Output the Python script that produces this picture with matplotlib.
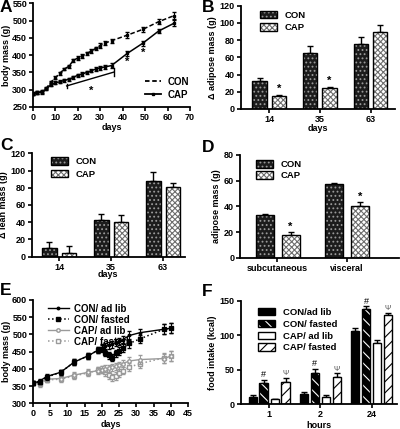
import matplotlib

matplotlib.use("Agg")
import matplotlib.pyplot as plt
import numpy as np
from matplotlib.legend_handler import HandlerTuple
from matplotlib.lines import Line2D

plt.rcParams["font.family"] = ["Liberation Sans", "DejaVu Sans"]
plt.rcParams["font.weight"] = "bold"
plt.rcParams["axes.labelweight"] = "bold"
plt.rcParams["font.size"] = 6.5
plt.rcParams["axes.labelsize"] = 6.5
plt.rcParams["axes.linewidth"] = 1.3
plt.rcParams["xtick.major.width"] = 1.2
plt.rcParams["ytick.major.width"] = 1.2
plt.rcParams["xtick.major.size"] = 3
plt.rcParams["ytick.major.size"] = 3
plt.rcParams["xtick.major.pad"] = 1.2
plt.rcParams["ytick.major.pad"] = 1.2
plt.rcParams["hatch.linewidth"] = 0.8

# Panel A: body mass over time
a_days = [0, 2, 4, 6, 8, 10, 12, 14, 16, 18, 20, 22, 24, 26, 28, 30, 32, 35, 42, 49, 56, 63]
a_con = [288, 292, 295, 305, 322, 335, 348, 360, 368, 385, 392, 398, 405, 412, 420, 428, 435, 442, 458, 475, 497, 515]
a_con_err = [4, 4, 4, 4, 4, 4, 4, 4, 4, 5, 5, 5, 5, 5, 5, 6, 6, 6, 8, 7, 8, 10]
a_cap = [288, 291, 293, 302, 315, 320, 323, 327, 330, 336, 342, 346, 350, 355, 360, 363, 366, 370, 405, 435, 470, 493]
a_cap_err = [4, 4, 4, 4, 4, 4, 4, 4, 4, 4, 5, 5, 5, 5, 5, 5, 6, 6, 6, 7, 7, 8]

# Panel B: change in adipose mass
b_days = ["14", "35", "63"]
b_con = [33, 65, 75]
b_con_err = [3, 8, 9]
b_cap = [15, 24, 89]
b_cap_err = [1, 2, 9]

# Panel C: change in lean mass
c_days = ["14", "35", "63"]
c_con = [10, 43, 88]
c_con_err = [7, 7, 10]
c_cap = [4, 40, 81]
c_cap_err = [8, 8, 5]

# Panel D: adipose depots
d_depots = ["subcutaneous", "visceral"]
d_con = [33, 57.5]
d_con_err = [1, 1]
d_cap = [18, 40]
d_cap_err = [2, 3]

# Panel E: fasting experiment body mass
e_days = [0, 2, 4, 8, 12, 16, 19, 20, 21, 22, 23, 24, 25, 26, 28, 31, 38, 40]
e_con_adlib = [358, 365, 378, 390, 420, 438, 455, 462, 465, 468, 472, 476, 480, 485, 497, 505, 515, 518]
e_con_fasted = [358, 362, 376, 390, 420, 438, 455, 458, 447, 440, 432, 445, 452, 460, 474, 487, 515, 518]
e_cap_adlib = [358, 360, 370, 372, 382, 390, 395, 397, 400, 402, 405, 407, 410, 415, 423, 427, 430, 437]
e_cap_fasted = [358, 355, 368, 370, 380, 388, 397, 398, 390, 382, 375, 380, 388, 395, 405, 415, 432, 437]
e_err = [6, 7, 7, 8, 8, 9, 9, 10, 10, 10, 10, 11, 11, 11, 12, 12, 14, 15]

# Panel F: food intake
f_hours = ["1", "2", "24"]
f_labels = ["CON/ad lib", "CON/ fasted", "CAP/ ad lib", "CAP/ fasted"]
f_values = [[10, 15, 107], [31, 45, 138], [7, 10, 89], [32, 40, 129]]
f_errors = [[4, 3, 4], [4, 6, 4], [1, 3, 5], [6, 5, 4]]


def _style(ax):
    for side in ("top", "right"):
        ax.spines[side].set_visible(False)
    ax.tick_params(direction="out", labelsize=6.5)
    for lab in ax.get_xticklabels() + ax.get_yticklabels():
        lab.set_fontweight("bold")


def _bar(ax, x, h, err, width, face, hatch_color, hatch):
    hb = ax.bar(x, h, width, color=face, edgecolor=hatch_color, hatch=hatch, linewidth=0, zorder=2)
    ob = ax.bar(x, h, width, fill=False, edgecolor="black", linewidth=1.0, zorder=3)
    ax.errorbar(x, h, yerr=[np.zeros(len(h)), err], fmt="none", ecolor="black",
                elinewidth=1.0, capsize=2.5, capthick=1.0, zorder=1)
    return (hb, ob)


def _bar_legend(ax, handles, labels, anchor, **kw):
    ax.legend(handles, labels, handler_map={tuple: HandlerTuple(ndivide=1, pad=0)},
              loc="upper left", bbox_to_anchor=anchor, frameon=False, fontsize=6.8,
              borderaxespad=0, **kw)


CON_STYLE = ("#1c1c1c", "#9a9a9a", "....")
CAP_STYLE = ("white", "#6e6e6e", "xxxxxx")

fig = plt.figure(figsize=(4.0, 4.29), dpi=100)

# ---- A ----
ax = fig.add_axes([0.0825, 0.7506, 0.3925, 0.2414])
ax.errorbar(a_days, a_con, yerr=a_con_err, fmt="s--", color="black", ms=2, lw=1.1,
            elinewidth=0.8, capsize=1.5, dashes=(3, 1.5))
ax.errorbar(a_days, a_cap, yerr=a_cap_err, fmt="s-", color="black", ms=2, lw=1.1,
            elinewidth=0.8, capsize=1.5)
ax.plot([15, 36], [311, 351], color="black", lw=1)
ax.plot([15, 15], [304, 318], color="black", lw=1)
ax.plot([36, 36], [340, 362], color="black", lw=1)
ax.text(26, 296, "*", ha="center", va="center", fontsize=8)
ax.text(42, 381, "*", ha="center", va="center", fontsize=8)
ax.text(49, 408, "*", ha="center", va="center", fontsize=8)
ax.set_xlim(0, 70)
ax.set_ylim(250, 550)
ax.set_xticks(range(0, 71, 10))
ax.set_yticks(range(250, 551, 50))
ax.set_xlabel("days", labelpad=1)
ax.set_ylabel("body mass (g)", labelpad=1)
a_handles = [Line2D([], [], color="black", lw=1.3, dashes=(2.5, 1.5)),
             Line2D([], [], color="black", lw=1.3, marker="s", ms=2)]
ax.legend(a_handles, ["CON", "CAP"], loc="upper left", bbox_to_anchor=(0.69, 0.33),
          frameon=False, fontsize=7, borderaxespad=0,
          handlelength=1.6, handletextpad=0.7, labelspacing=0.3)
_style(ax)

# ---- B ----
ax = fig.add_axes([0.602, 0.746, 0.3855, 0.2407])
x = np.arange(len(b_days))
h1 = _bar(ax, x - 0.19, b_con, b_con_err, 0.28, *CON_STYLE)
h2 = _bar(ax, x + 0.19, b_cap, b_cap_err, 0.28, *CAP_STYLE)
for i in (0, 1):
    ax.text(x[i] + 0.19, b_cap[i] + b_cap_err[i] + 1, "*", ha="center", va="bottom", fontsize=8)
ax.set_xlim(-0.56, 2.48)
ax.set_ylim(0, 120)
ax.set_yticks(range(0, 121, 20))
ax.set_xticks(x)
ax.set_xticklabels(b_days)
ax.set_xlabel("days", labelpad=0)
ax.set_ylabel("Δ adipose mass (g)", labelpad=2)
_bar_legend(ax, [h1, h2], ["CON", "CAP"], (0.1, 0.99),
            handlelength=1.8, handleheight=0.9, labelspacing=0.35, handletextpad=0.8)
_style(ax)

# ---- C ----
ax = fig.add_axes([0.079, 0.4016, 0.3835, 0.2411])
x = np.arange(len(c_days))
h1 = _bar(ax, x - 0.19, c_con, c_con_err, 0.28, *CON_STYLE)
h2 = _bar(ax, x + 0.19, c_cap, c_cap_err, 0.28, *CAP_STYLE)
ax.set_xlim(-0.53, 2.42)
ax.set_ylim(0, 120)
ax.set_yticks(range(0, 121, 20))
ax.set_xticks(x)
ax.set_xticklabels(c_days)
ax.set_xlabel("days", labelpad=-1)
ax.set_ylabel("Δ lean mass (g)", labelpad=2)
_bar_legend(ax, [h1, h2], ["CON", "CAP"], (0.1, 1.0),
            handlelength=1.8, handleheight=0.9, labelspacing=0.35, handletextpad=0.8)
_style(ax)

# ---- D ----
ax = fig.add_axes([0.6, 0.3993, 0.3975, 0.2394])
x = np.arange(len(d_depots))
h1 = _bar(ax, x - 0.18, d_con, d_con_err, 0.26, *CON_STYLE)
h2 = _bar(ax, x + 0.19, d_cap, d_cap_err, 0.26, *CAP_STYLE)
for i in range(len(d_depots)):
    ax.text(x[i] + 0.19, d_cap[i] + d_cap_err[i] + 0.3, "*", ha="center", va="bottom", fontsize=8)
ax.set_xlim(-0.54, 1.75)
ax.set_ylim(0, 80)
ax.set_yticks(range(0, 81, 20))
ax.set_xticks(x)
ax.set_xticklabels(d_depots)
ax.set_ylabel("adipose mass (g)", labelpad=2)
_bar_legend(ax, [h1, h2], ["CON", "CAP"], (0.08, 0.99),
            handlelength=1.8, handleheight=0.9, labelspacing=0.2, handletextpad=0.8)
_style(ax)

# ---- E ----
ax = fig.add_axes([0.0825, 0.0599, 0.3875, 0.2408])
gray = "#9a9a9a"
ax.errorbar(e_days, e_con_adlib, yerr=e_err, fmt="o-", color="black", ms=1.8, lw=1.0,
            elinewidth=0.7, capsize=1.5, zorder=4)
ax.errorbar(e_days, e_con_fasted, yerr=e_err, fmt="s:", color="black", ms=2.5, lw=1.1,
            elinewidth=0.7, capsize=1.5, zorder=3)
ax.errorbar(e_days, e_cap_adlib, yerr=e_err, fmt="o-", color=gray, mfc="white", ms=2.5,
            lw=1.0, elinewidth=0.7, capsize=1.5, zorder=2)
ax.errorbar(e_days, e_cap_fasted, yerr=e_err, fmt="s:", color=gray, mfc="white", ms=3,
            lw=1.1, elinewidth=0.7, capsize=1.5, zorder=1)
ax.set_xlim(0, 45)
ax.set_ylim(300, 600)
ax.set_xticks(range(0, 46, 5))
ax.set_yticks(range(300, 601, 50))
ax.set_xlabel("days", labelpad=1)
ax.set_ylabel("body mass (g)", labelpad=1)
handles = [Line2D([], [], color="black", marker="o", ms=1.8, lw=1.0),
           Line2D([], [], color="black", marker="s", ms=2.5, lw=1.1, ls=":"),
           Line2D([], [], color=gray, marker="o", mfc="white", ms=2.5, lw=1.0),
           Line2D([], [], color=gray, marker="s", mfc="white", ms=3, lw=1.1, ls=":")]
ax.legend(handles, ["CON/ ad lib", "CON/ fasted", "CAP/ ad lib", "CAP/ fasted"],
          loc="upper left", bbox_to_anchor=(0.07, 1.0), frameon=False, fontsize=7,
          borderaxespad=0, handlelength=2.2, handletextpad=0.5, labelspacing=0.1)
_style(ax)

# ---- F ----
ax = fig.add_axes([0.6017, 0.0576, 0.39, 0.2408])
x = np.arange(len(f_hours))
f_styles = [("black", "black", None), ("black", "white", "\\\\\\"),
            ("white", "black", None), ("white", "black", "///")]
offsets = [-0.32, -0.11, 0.11, 0.32]
handles = []
for vals, errs, off, st in zip(f_values, f_errors, offsets, f_styles):
    handles.append(_bar(ax, x + off, vals, errs, 0.165, *st))
for i in range(len(f_hours)):
    ax.text(x[i] - 0.11, f_values[1][i] + f_errors[1][i] + 1, "#", ha="center",
            va="bottom", fontsize=6.5, fontweight="normal")
    ax.text(x[i] + 0.32, f_values[3][i] + f_errors[3][i] + 1, "Ψ", ha="center",
            va="bottom", fontsize=5.5, fontweight="normal", color="#555555")
ax.set_xlim(-0.56, 2.49)
ax.set_ylim(0, 150)
ax.set_yticks(range(0, 151, 50))
ax.set_xticks(x)
ax.set_xticklabels(f_hours)
ax.set_xlabel("hours", labelpad=1)
ax.set_ylabel("food intake (kcal)", labelpad=2)
_bar_legend(ax, handles, f_labels, (0.09, 0.97),
            handlelength=1.8, handleheight=0.8, labelspacing=0.3, handletextpad=0.8)
_style(ax)

# panel letters
for letter, (px, py) in zip("ABCDEF", [(0, 0), (202, 0), (0, 138), (202, 140), (0, 283), (202, 284)]):
    fig.text(px / 400, 1 - py / 429, letter, ha="left", va="top", fontsize=12.5, fontweight="bold")

fig.savefig("out.png", dpi=100)
